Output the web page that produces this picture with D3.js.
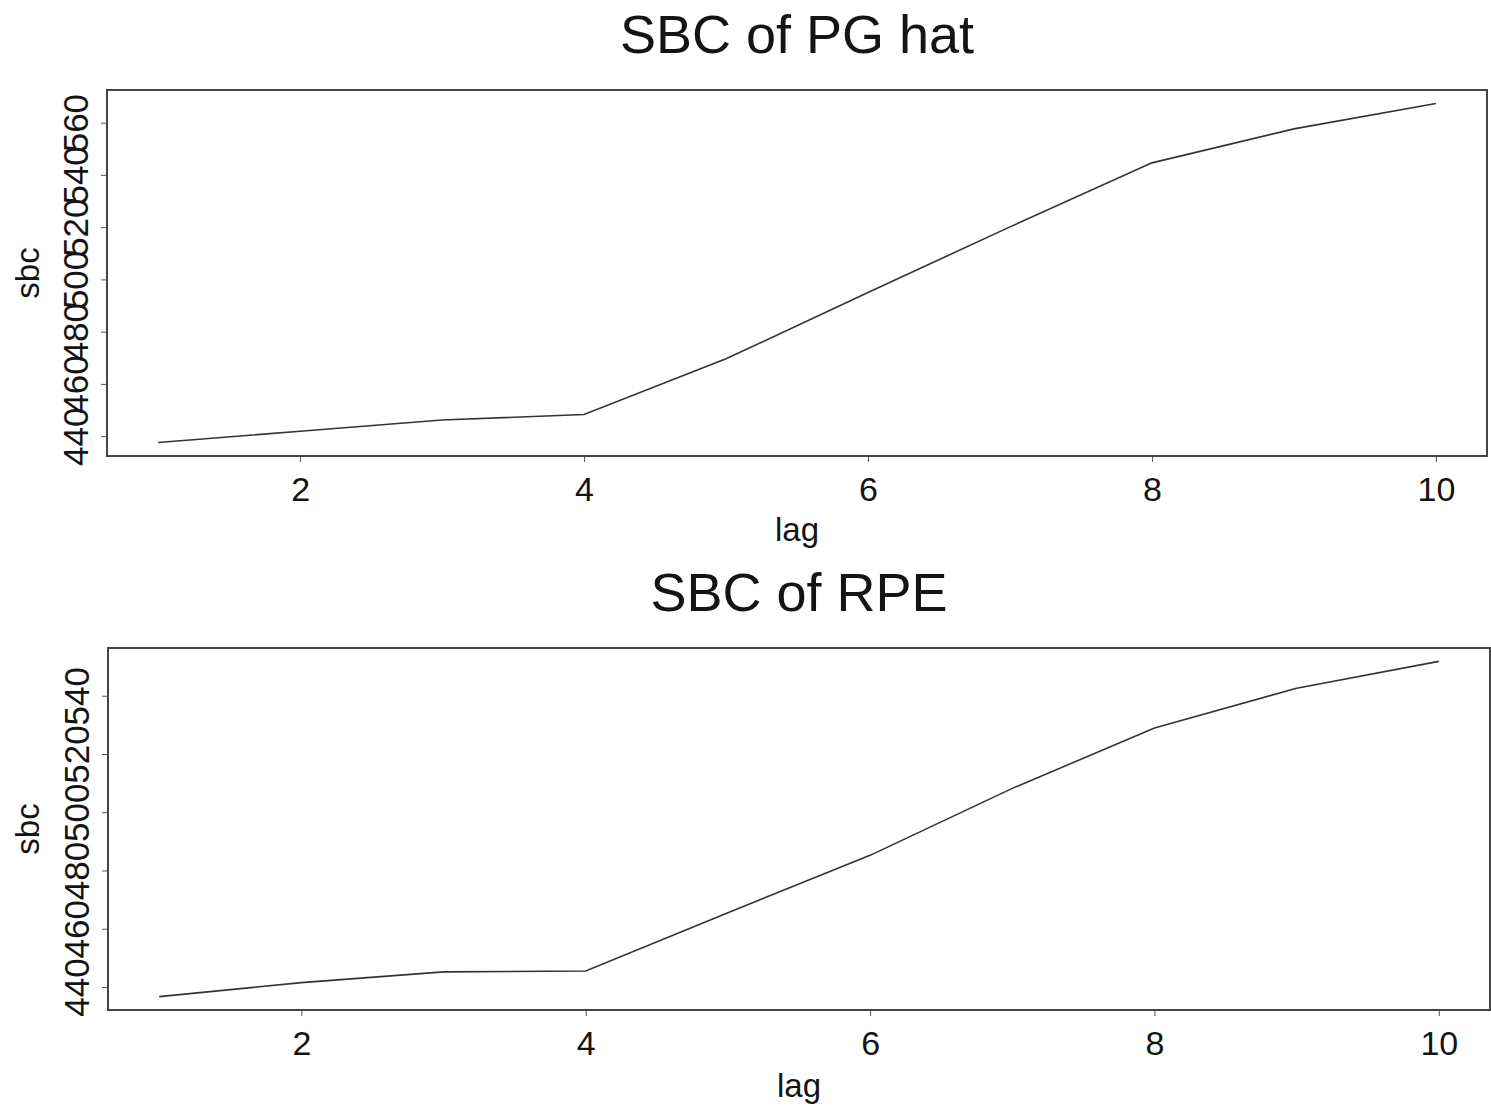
<!DOCTYPE html>
<html>
<head>
<meta charset="utf-8">
<script src="https://cdn.jsdelivr.net/npm/d3@7"></script>
<style>
  body { margin: 0; background: #fff; }
  svg { display: block; font-family: "Liberation Sans", Arial, sans-serif; }
</style>
</head>
<body>
<svg id="chart" width="1491" height="1108"></svg>
<script>
// data
var lags = [1, 2, 3, 4, 5, 6, 7, 8, 9, 10];
var sbcPG = [437.6, 441.9, 446.2, 448.3, 469.6, 495.0, 520.1, 544.6, 557.6, 567.3];
var sbcRPE = [436.7, 441.5, 445.2, 445.5, 465.5, 485.2, 508.2, 528.9, 542.6, 551.8];
var xTicks = [2, 4, 6, 8, 10];
var yTicksPG = [440, 460, 480, 500, 520, 540, 560];
var yTicksRPE = [440, 460, 480, 500, 520, 540];
var titles = ["SBC of PG hat", "SBC of RPE"];

var ink = "#141414";
var svg = d3.select("#chart");

// padding like the old S plots (4% each side)
function padded(arr) {
    var e = d3.extent(arr);
    var p = (e[1] - e[0]) * 0.04;
    return [e[0] - p, e[1] + p];
}

function panel(opt) {
    var w = opt.right - opt.left, h = opt.bottom - opt.top;
    var x = d3.scaleLinear().domain(padded(lags)).range([0, w]);
    var y = d3.scaleLinear().domain(padded(opt.values)).range([h, 0]);

    var g = svg.append("g")
        .attr("transform", "translate(" + [opt.left, opt.top] + ")");

    // x axis
    var xa = g.append("g")
        .attr("transform", "translate(0," + h + ")")
        .call(d3.axisBottom(x).tickValues(xTicks).tickSize(6).tickSizeOuter(0).tickFormat(d3.format("d")));
    xa.select(".domain").remove();
    xa.selectAll("line").attr("stroke", "#555");
    xa.selectAll("text")
        .attr("y", 45).attr("dy", 0)
        .attr("fill", ink)
        .style("font-size", "34px")
        .style("font-family", "'Liberation Sans', Arial, sans-serif");

    // y axis, labels rotated and crammed like the original
    var ya = g.append("g")
        .call(d3.axisLeft(y).tickValues(opt.yTicks).tickSize(6).tickSizeOuter(0).tickFormat(d3.format("d")));
    ya.select(".domain").remove();
    ya.selectAll("line").attr("stroke", "#555");
    ya.selectAll("text")
        .attr("transform", "rotate(-90)")
        .attr("x", 0).attr("y", -19).attr("dy", 0)
        .attr("text-anchor", "middle")
        .attr("fill", ink)
        .style("font-size", "35px")
        .style("font-family", "'Liberation Sans', Arial, sans-serif");

    // frame
    g.append("rect")
        .attr("width", w).attr("height", h)
        .attr("fill", "none")
        .attr("stroke", "#444")
        .attr("stroke-width", 2);

    // series
    var line = d3.line()
        .x(function(d, i) { return x(lags[i]); })
        .y(function(d) { return y(d); });
    g.append("path")
        .datum(opt.values)
        .attr("d", line)
        .attr("fill", "none")
        .attr("stroke", "#333")
        .attr("stroke-width", 1.6);

    // labels
    g.append("text")
        .attr("x", w / 2).attr("y", opt.titleY - opt.top)
        .attr("text-anchor", "middle")
        .attr("fill", ink)
        .style("font-size", "54px")
        .text(opt.title);
    g.append("text")
        .attr("x", w / 2).attr("y", h + opt.lagDy)
        .attr("text-anchor", "middle")
        .attr("fill", ink)
        .style("font-size", "33px")
        .text("lag");
    g.append("text")
        .attr("transform", "rotate(-90)")
        .attr("x", -h / 2).attr("y", 39 - opt.left)
        .attr("text-anchor", "middle")
        .attr("fill", ink)
        .style("font-size", "33px")
        .text("sbc");
}

panel({ left: 107, right: 1487, top: 90, bottom: 456, values: sbcPG, yTicks: yTicksPG,
        title: titles[0], titleY: 53, lagDy: 85 });
panel({ left: 108, right: 1490, top: 648, bottom: 1010, values: sbcRPE, yTicks: yTicksRPE,
        title: titles[1], titleY: 611, lagDy: 87 });
</script>
</body>
</html>
